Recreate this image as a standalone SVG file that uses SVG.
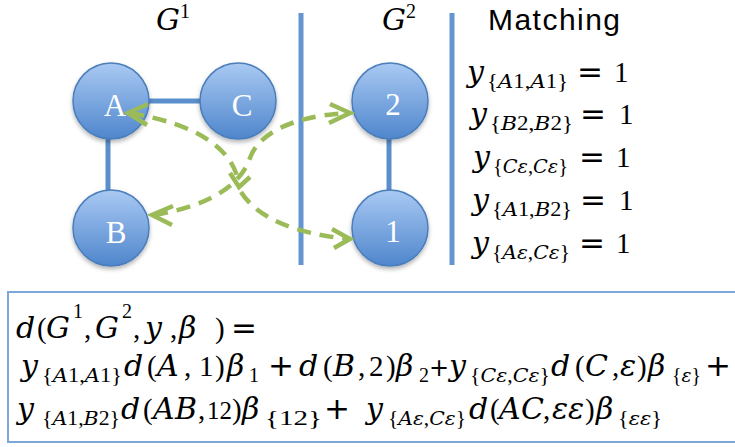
<svg xmlns="http://www.w3.org/2000/svg" width="735" height="447" viewBox="0 0 735 447">
<defs>
<linearGradient id="nodeGrad" x1="0" y1="0" x2="0" y2="1">
<stop offset="0" stop-color="#a9c9f3"/>
<stop offset="1" stop-color="#4f86cc"/>
</linearGradient>
<filter id="shadow" x="-30%" y="-30%" width="160%" height="170%">
<feDropShadow dx="0" dy="2.5" stdDeviation="2" flood-color="#000" flood-opacity="0.3"/>
</filter>
<style>
.node circle{fill:url(#nodeGrad);stroke:#4a7ebb;stroke-width:1.5;filter:url(#shadow)}
.node text{font-family:"Liberation Serif",serif;font-size:31px;fill:#fff;text-anchor:middle}
.edge{stroke:#5b8fcb;stroke-width:5;fill:none}
.sep{stroke:#6396d0;stroke-width:5;fill:none}
.dash{stroke:#9bbb59;stroke-width:4.5;fill:none;stroke-dasharray:14 9}
.head{stroke:#9bbb59;stroke-width:4.5;fill:none;stroke-linejoin:miter}
.i{font-family:"DejaVu Serif",serif;font-style:italic;font-size:30px}
.r{font-family:"Liberation Serif",serif;font-size:29px}
.o{font-family:"DejaVu Sans",sans-serif;font-size:31px}
.si{font-family:"DejaVu Serif",serif;font-style:italic;font-size:19px}
.sr{font-family:"Liberation Serif",serif;font-size:20px}
.title{font-family:"Liberation Sans",sans-serif;font-size:30px}
text{fill:#000}
</style>
</defs>
<rect width="735" height="447" fill="#fff"/>

<g id="separators">
<line class="sep" x1="301" y1="13" x2="301" y2="265"/>
<line class="sep" x1="452" y1="13" x2="452" y2="265"/>
</g>

<g id="edges">
<line class="edge" x1="145" y1="101" x2="203" y2="101"/>
<line class="edge" x1="108" y1="136" x2="108" y2="192"/>
<line class="edge" x1="389" y1="136" x2="389" y2="192"/>
</g>

<g id="node-A" class="node"><circle cx="111" cy="101" r="38"/><text x="115" y="116">A</text></g>
<g id="node-C" class="node"><circle cx="238" cy="101" r="38"/><text x="242" y="116">C</text></g>
<g id="node-B" class="node"><circle cx="111" cy="228" r="38"/><text x="116" y="243">B</text></g>
<g id="node-2" class="node"><circle cx="390" cy="101" r="38"/><text x="393" y="115">2</text></g>
<g id="node-1" class="node"><circle cx="390" cy="228" r="38"/><text x="393" y="242">1</text></g>

<g id="connectors">
<path class="dash" d="M 130,113 Q 230,130 239,184"/>
<path class="dash" d="M 241,192 Q 265,230 348,239"/>
<path class="dash" d="M 154,215 C 215,205 242,182 250,158 C 258,135 290,116 348,113"/>
<polyline class="head" points="148,104 128,113 147,125"/>
<polyline class="head" points="173,206 152,215 172,225"/>
<polyline class="head" points="330,104 350,113 329,123"/>
<polyline class="head" points="332,229 350,239 334,248"/>
<polyline class="head" points="230,173 239,187 250,177"/>
</g>

<g id="titles">
<text x="156" y="30"><tspan class="i">G</tspan><tspan class="sr" x="180" y="18">1</tspan></text>
<text x="382" y="30"><tspan class="i">G</tspan><tspan class="sr" x="406" y="18">2</tspan></text>
<text class="title" x="488" y="30" textLength="132">Matching</text>
</g>

<g id="matching">
<text y="82"><tspan class="i" x="467">y</tspan><tspan class="o" x="577">=</tspan><tspan class="r" x="614">1</tspan></text>
<text x="487" y="88" textLength="81" lengthAdjust="spacingAndGlyphs"><tspan class="sr">{</tspan><tspan class="si">A</tspan><tspan class="sr">1,</tspan><tspan class="si">A</tspan><tspan class="sr">1}</tspan></text>
<text y="124"><tspan class="i" x="470">y</tspan><tspan class="o" x="580">=</tspan><tspan class="r" x="619">1</tspan></text>
<text x="490" y="130" textLength="83" lengthAdjust="spacingAndGlyphs"><tspan class="sr">{</tspan><tspan class="si">B</tspan><tspan class="sr">2,</tspan><tspan class="si">B</tspan><tspan class="sr">2}</tspan></text>
<text y="167"><tspan class="i" x="473">y</tspan><tspan class="o" x="579">=</tspan><tspan class="r" x="616">1</tspan></text>
<text x="493" y="173" textLength="75" lengthAdjust="spacingAndGlyphs"><tspan class="sr">{</tspan><tspan class="si">Cε</tspan><tspan class="sr">,</tspan><tspan class="si">Cε</tspan><tspan class="sr">}</tspan></text>
<text y="210"><tspan class="i" x="472">y</tspan><tspan class="o" x="580">=</tspan><tspan class="r" x="619">1</tspan></text>
<text x="492" y="216" textLength="80" lengthAdjust="spacingAndGlyphs"><tspan class="sr">{</tspan><tspan class="si">A</tspan><tspan class="sr">1,</tspan><tspan class="si">B</tspan><tspan class="sr">2}</tspan></text>
<text y="253"><tspan class="i" x="472">y</tspan><tspan class="o" x="579">=</tspan><tspan class="r" x="616">1</tspan></text>
<text x="492" y="259" textLength="78" lengthAdjust="spacingAndGlyphs"><tspan class="sr">{</tspan><tspan class="si">Aε</tspan><tspan class="sr">,</tspan><tspan class="si">Cε</tspan><tspan class="sr">}</tspan></text>
</g>

<g id="formula">
<rect x="8" y="292" width="740" height="150" fill="#fff" stroke="#7ea6d8" stroke-width="2"/>
<text y="338"><tspan class="i" x="16">d</tspan><tspan class="r" x="37">(</tspan><tspan class="i" x="46">G</tspan><tspan class="sr" x="73" y="318">1</tspan><tspan class="r" x="84" y="338">,</tspan><tspan class="i" x="95">G</tspan><tspan class="sr" x="122" y="318">2</tspan><tspan class="r" x="133" y="338">,</tspan><tspan class="i" x="145">y</tspan><tspan class="r" x="170">,</tspan><tspan class="i" x="179">β</tspan><tspan class="r" x="215">)</tspan><tspan class="o" x="231">=</tspan></text>

<text y="376"><tspan class="i" x="21">y</tspan><tspan class="i" x="124">d</tspan><tspan class="r" x="147">(</tspan><tspan class="i" x="157">A</tspan><tspan class="r" x="184">,</tspan><tspan class="r" x="199">1</tspan><tspan class="r" x="215">)</tspan><tspan class="i" x="227">β</tspan><tspan class="sr" x="249" y="382">1</tspan><tspan class="o" x="268" y="376">+</tspan><tspan class="i" x="299">d</tspan><tspan class="r" x="323">(</tspan><tspan class="i" x="333">B</tspan><tspan class="r" x="358">,</tspan><tspan class="r" x="369">2</tspan><tspan class="r" x="386">)</tspan><tspan class="i" x="396">β</tspan><tspan class="sr" x="419" y="382">2</tspan><tspan class="o" x="429" y="376" style="font-size:24px">+</tspan><tspan class="i" x="449">y</tspan><tspan class="i" x="551">d</tspan><tspan class="r" x="575">(</tspan><tspan class="i" x="585">C</tspan><tspan class="r" x="612">,</tspan><tspan class="i" x="620">ε</tspan><tspan class="r" x="637">)</tspan><tspan class="i" x="648">β</tspan><tspan class="o" x="705">+</tspan></text>
<text x="42" y="382" textLength="80" lengthAdjust="spacingAndGlyphs"><tspan class="sr">{</tspan><tspan class="si">A</tspan><tspan class="sr">1,</tspan><tspan class="si">A</tspan><tspan class="sr">1}</tspan></text>
<text x="470" y="382" textLength="80" lengthAdjust="spacingAndGlyphs"><tspan class="sr">{</tspan><tspan class="si">Cε</tspan><tspan class="sr">,</tspan><tspan class="si">Cε</tspan><tspan class="sr">}</tspan></text>
<text x="672" y="382" textLength="29" lengthAdjust="spacingAndGlyphs"><tspan class="sr">{</tspan><tspan class="si">ε</tspan><tspan class="sr">}</tspan></text>

<text y="419"><tspan class="i" x="17">y</tspan><tspan class="i" x="121">d</tspan><tspan class="r" x="143">(</tspan><tspan class="i" x="153">A</tspan><tspan class="i" x="175">B</tspan><tspan class="r" x="198">,</tspan><tspan class="r" x="207" style="font-size:25px">12</tspan><tspan class="r" x="232">)</tspan><tspan class="i" x="242">β</tspan><tspan class="o" x="324">+</tspan><tspan class="i" x="366">y</tspan><tspan class="i" x="469">d</tspan><tspan class="r" x="490">(</tspan><tspan class="i" x="499">A</tspan><tspan class="i" x="521">C</tspan><tspan class="r" x="543">,</tspan><tspan class="i" x="552">ε</tspan><tspan class="i" x="568">ε</tspan><tspan class="r" x="585">)</tspan><tspan class="i" x="596">β</tspan></text>
<text x="42" y="425" textLength="78" lengthAdjust="spacingAndGlyphs"><tspan class="sr">{</tspan><tspan class="si">A</tspan><tspan class="sr">1,</tspan><tspan class="si">B</tspan><tspan class="sr">2}</tspan></text>
<text x="265" y="425" textLength="57" lengthAdjust="spacingAndGlyphs"><tspan class="sr">{12}</tspan></text>
<text x="388" y="425" textLength="78" lengthAdjust="spacingAndGlyphs"><tspan class="sr">{</tspan><tspan class="si">Aε</tspan><tspan class="sr">,</tspan><tspan class="si">Cε</tspan><tspan class="sr">}</tspan></text>
<text x="618" y="425" textLength="44" lengthAdjust="spacingAndGlyphs"><tspan class="sr">{</tspan><tspan class="si">εε</tspan><tspan class="sr">}</tspan></text>
</g>
</svg>
